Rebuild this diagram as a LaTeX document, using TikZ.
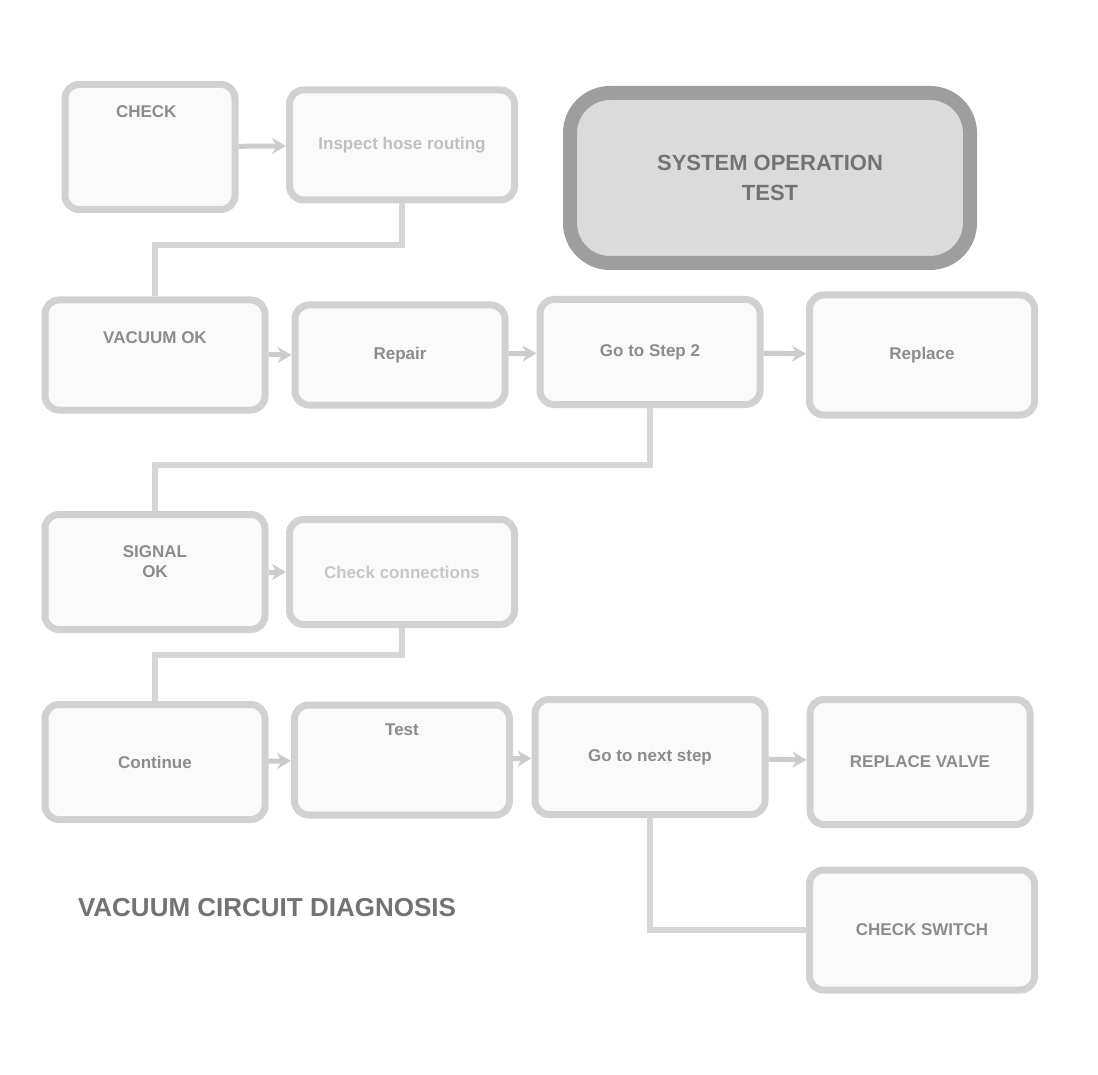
\documentclass[tikz,border=0pt]{standalone}
\usepackage{fontspec}
\setmainfont{Liberation Sans}
\usetikzlibrary{arrows.meta}
\begin{document}
\begin{tikzpicture}[x=1pt,y=-1pt,
  box/.style={draw=black!18, line width=7pt, rounded corners=14pt, fill=black!2,
    inner sep=6pt, align=center, text=black!45, font=\fontsize{17}{20}\selectfont\bfseries},
  darkbox/.style={draw=black!38, line width=14pt, rounded corners=40pt, fill=black!14,
    align=center, text=black!55, font=\fontsize{22}{26}\selectfont\bfseries},
  link/.style={draw=black!16, line width=6pt},
  arr/.style={draw=black!20, line width=5pt, -{Stealth[length=14pt,width=16pt]}},
  captext/.style={text=black!55, font=\fontsize{26}{30}\selectfont\bfseries}]
\useasboundingbox[fill=white] (0,0) rectangle (1098,1075);

% row 1
\node[box, minimum width=170pt, minimum height=125pt, text depth=70pt] (A) at (150,147) {CHECK~\,};
\node[box, minimum width=225pt, minimum height=110pt, text=black!25] (B) at (402,145) {Inspect hose routing};
\node[darkbox, minimum width=400pt, minimum height=170pt] (C) at (770,178) {SYSTEM OPERATION\\[4pt]TEST};

% row 2
\node[box, minimum width=220pt, minimum height=110pt, text depth=35pt] (D) at (155,355) {VACUUM OK};
\node[box, minimum width=210pt, minimum height=100pt] (E) at (400,355) {Repair};
\node[box, minimum width=220pt, minimum height=105pt] (F) at (650,352) {Go to Step 2};
\node[box, minimum width=225pt, minimum height=120pt] (G) at (922,355) {Replace};

% row 3
\node[box, minimum width=220pt, minimum height=115pt, text depth=20pt] (H) at (155,572) {SIGNAL\\OK};
\node[box, minimum width=225pt, minimum height=105pt, text=black!22] (I) at (402,572) {Check connections};

% row 4
\node[box, minimum width=220pt, minimum height=115pt] (J) at (155,762) {Continue};
\node[box, minimum width=215pt, minimum height=110pt, text depth=60pt] (K) at (402,760) {Test};
\node[box, minimum width=230pt, minimum height=115pt] (L) at (650,757) {Go to next step};
\node[box, minimum width=220pt, minimum height=125pt] (M) at (920,762) {REPLACE VALVE};
\node[box, minimum width=225pt, minimum height=120pt] (N) at (922,930) {CHECK SWITCH};

\node[captext] (T) at (267,908) {VACUUM CIRCUIT DIAGNOSIS};

% connectors
\coordinate (j1) at (402,245);
\coordinate (j2) at (650,465);
\coordinate (j3) at (402,655);
\draw[arr] (A) -- (B);
\draw[link] (B.south) -- (j1) -| (D.north);
\draw[arr] (D) -- (E);
\draw[arr] (E) -- (F);
\draw[arr] (F) -- (G);
\draw[link] (F.south) -- (j2) -| (H.north);
\draw[arr] (H) -- (I);
\draw[link] (I.south) -- (j3) -| (J.north);
\draw[arr] (J) -- (K);
\draw[arr] (K) -- (L);
\draw[arr] (L) -- (M);
\draw[link] (L.south) |- (N.west);
\end{tikzpicture}
\end{document}
